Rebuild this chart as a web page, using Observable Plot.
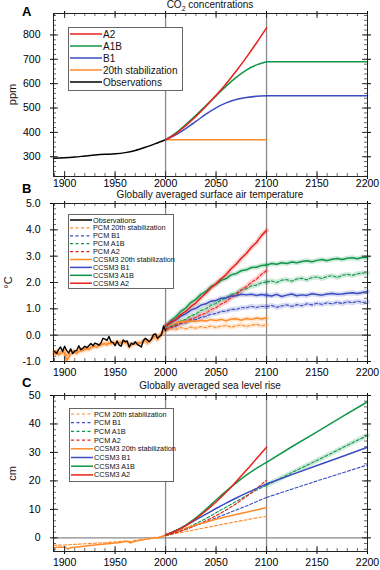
<!DOCTYPE html>
<html><head><meta charset="utf-8">
<script src="https://cdn.jsdelivr.net/npm/d3@7"></script>
<script src="https://cdn.jsdelivr.net/npm/@observablehq/plot@0.6"></script>
<style>
body{margin:0;background:#fff;font-family:"Liberation Sans",Arial,sans-serif;}
#wrap{position:relative;width:380px;height:570px;overflow:hidden;background:#fff;}
.panel{position:absolute;left:0;}
.title{position:absolute;left:53px;width:314px;text-align:center;font-size:10px;line-height:10px;color:#111;}
.letter{position:absolute;font-weight:bold;font-size:13px;line-height:13px;color:#000;}
.ylab{position:absolute;font-size:11px;line-height:11px;width:40px;text-align:center;transform:rotate(-90deg);color:#111;}
</style></head><body><div id="wrap"></div>
<script>
// ---------------- DATA ----------------
const colRed = "#e8201c", colGreen = "#10964a", colBlue = "#3a4cc0", colOrange = "#ff8a2a", colBlack = "#000";

// Panel A: CO2 (ppm)
const co2ObsYears = [1889, 1900, 1910, 1920, 1930, 1940, 1950, 1960, 1970, 1980, 1990, 2000];
const co2Obs      = [294, 296, 299, 303, 307, 310, 312, 317, 326, 339, 354, 370];
const co2ScenYears = [2000, 2010, 2020, 2030, 2040, 2050, 2060, 2070, 2080, 2090, 2100];
const co2A2  = [370, 394, 428, 465, 507, 552, 600, 652, 708, 767, 829];
const co2A1B = [370, 397, 432, 470, 510, 550, 590, 626, 656, 677, 690];
const co2B1  = [370, 390, 416, 445, 475, 501, 521, 535, 543, 548, 550];
const co2Stab = [370, 370, 370, 370, 370, 370, 370, 370, 370, 370, 370];
const co2ExtYears = [2100, 2200];
const co2A1BExt = [690, 690];
const co2B1Ext  = [550, 550];

// Panel B: temperature (°C)
const histYears = d3.range(1890, 2001, 2);
const tObs = [-0.62,-0.70,-0.55,-0.45,-0.62, -0.42,-0.58,-0.68,-0.52,-0.70, -0.60,-0.58,-0.40,-0.55,-0.50,
  -0.42,-0.48,-0.40,-0.32,-0.40, -0.30,-0.33,-0.38,-0.30,-0.12, -0.15,-0.20,-0.05,-0.25,-0.28,
  -0.40,-0.22,-0.38,-0.42,-0.18, -0.25,-0.22,-0.45,-0.30,-0.35, -0.25,-0.35,-0.40,-0.45,-0.20,
  -0.12,-0.18,-0.25,-0.15,0.02, 0.05,-0.12,-0.05,0.02,0.35, 0.18];
const tCcsmHist = [-0.72,-0.68,-0.75,-0.70,-0.65, -0.68,-0.95,-0.85,-0.72,-0.68, -0.65,-0.70,-0.62,-0.60,-0.58,
  -0.55,-0.52,-0.55,-0.48,-0.45, -0.42,-0.45,-0.40,-0.38,-0.35, -0.33,-0.36,-0.30,-0.32,-0.28,
  -0.30,-0.27,-0.29,-0.31,-0.26, -0.28,-0.30,-0.45,-0.38,-0.34, -0.32,-0.30,-0.30,-0.28,-0.25,
  -0.20,-0.28,-0.22,-0.15,-0.08, 0.00,-0.12,-0.02,0.08,0.18, 0.30];
const tPcmHist = [-0.65,-0.60,-0.68,-0.62,-0.64, -0.58,-0.80,-0.72,-0.62,-0.60, -0.58,-0.63,-0.55,-0.53,-0.56,
  -0.50,-0.47,-0.50,-0.45,-0.43, -0.40,-0.43,-0.37,-0.36,-0.33, -0.30,-0.34,-0.29,-0.31,-0.28,
  -0.30,-0.26,-0.29,-0.25,-0.27, -0.28,-0.30,-0.42,-0.36,-0.32, -0.33,-0.29,-0.31,-0.27,-0.24,
  -0.20,-0.30,-0.24,-0.18,-0.12, -0.06,-0.18,-0.08,0.02,0.10, 0.20];
const projYears = d3.range(2000, 2101, 5);
const extYears  = d3.range(2100, 2201, 5);
const tCcsmA2  = [0.35,0.50,0.60,0.78,0.90,1.08,1.22,1.42,1.60,1.80,1.95,2.14,2.30,2.52,2.70,2.92,3.10,3.34,3.52,3.78,3.98];
const tCcsmA1B = [0.35,0.54,0.70,0.90,1.03,1.24,1.36,1.55,1.66,1.84,1.94,2.08,2.15,2.29,2.34,2.45,2.48,2.57,2.58,2.65,2.66];
const tCcsmA1BExt = [2.66,2.72,2.69,2.75,2.72,2.78,2.75,2.80,2.83,2.79,2.84,2.87,2.83,2.88,2.91,2.87,2.92,2.94,2.90,2.96,2.95];
const tCcsmB1  = [0.32,0.47,0.57,0.72,0.81,0.95,1.02,1.14,1.19,1.29,1.32,1.40,1.42,1.49,1.50,1.55,1.53,1.55,1.51,1.54,1.52];
const tCcsmB1Ext = [1.52,1.49,1.55,1.47,1.52,1.56,1.50,1.53,1.51,1.57,1.54,1.52,1.56,1.58,1.55,1.56,1.59,1.61,1.58,1.62,1.66];
const tCcsmStab = [0.32,0.41,0.45,0.51,0.50,0.54,0.52,0.57,0.54,0.59,0.56,0.60,0.55,0.61,0.62,0.57,0.63,0.60,0.65,0.61,0.65];
const tPcmA2  = [0.22,0.30,0.37,0.46,0.51,0.61,0.67,0.78,0.84,0.97,1.04,1.18,1.27,1.43,1.54,1.71,1.84,2.01,2.13,2.31,2.45];
const tPcmA1B = [0.22,0.33,0.41,0.54,0.60,0.74,0.80,0.94,1.00,1.14,1.20,1.34,1.40,1.54,1.59,1.72,1.76,1.87,1.90,1.99,2.02];
const tPcmA1BExt = [2.02,2.06,2.00,2.09,2.11,2.05,2.13,2.16,2.10,2.19,2.21,2.15,2.23,2.26,2.19,2.27,2.31,2.27,2.33,2.36,2.36];
const tPcmB1  = [0.22,0.29,0.34,0.44,0.47,0.57,0.59,0.68,0.71,0.80,0.82,0.90,0.91,0.98,0.98,1.04,1.04,1.10,1.05,1.10,1.08];
const tPcmB1Ext = [1.08,1.13,1.06,1.11,1.15,1.09,1.16,1.12,1.19,1.15,1.21,1.17,1.23,1.19,1.25,1.20,1.27,1.23,1.29,1.24,1.27];
const tPcmStab = [0.20,0.25,0.21,0.29,0.24,0.31,0.26,0.33,0.28,0.35,0.29,0.34,0.37,0.30,0.36,0.39,0.33,0.38,0.41,0.35,0.40];

// Panel C: sea level (cm)
const slCcsmHistYears = [1889,1900,1903,1907,1915,1925,1935,1945,1955,1962,1965,1970,1980,1990,1992,2000];
const slCcsmHist      = [-3.4,-3.2,-3.9,-3.4,-3.1,-2.7,-2.3,-2.0,-1.6,-1.2,-1.8,-1.2,-0.5,0.1,-0.1,1.0];
const slPcmHistYears  = [1889,1900,1910,1920,1930,1940,1950,1960,1965,1970,1980,1990,2000];
const slPcmHist       = [-2.6,-2.5,-2.3,-2.1,-1.9,-1.7,-1.4,-1.1,-1.3,-0.9,-0.5,0.0,0.8];
const slYears = [2000,2010,2020,2030,2040,2050,2060,2070,2080,2090,2100];
const slExtYears = [2100,2125,2150,2175,2200];
const slCcsmA2  = [1.0,2.4,4.3,6.7,9.5,12.6,16.0,19.8,23.7,27.8,31.8];
const slCcsmA1B = [1.0,2.5,4.5,7.0,10.0,13.3,16.4,19.3,22.0,24.4,26.5];
const slCcsmA1BExt = [26.5,32.0,37.2,42.6,47.8];
const slCcsmB1  = [1.0,2.5,4.3,6.3,8.3,10.3,12.2,14.0,15.7,17.3,18.9];
const slCcsmB1Ext = [18.9,22.2,25.4,28.6,31.8];
const slCcsmStab = [1.0,2.2,3.4,4.5,5.5,6.5,7.4,8.2,9.0,9.8,10.6];
const slPcmA2  = [0.8,1.8,3.0,4.4,6.0,7.8,9.8,12.0,14.5,17.3,20.3];
const slPcmA1B = [0.8,1.9,3.3,5.0,6.8,8.8,10.8,12.8,14.8,16.7,18.5];
const slPcmA1BExt = [18.5,22.9,27.2,31.6,36.0];
const slPcmB1  = [0.8,1.8,3.0,4.3,5.6,7.0,8.4,9.8,11.2,12.7,14.2];
const slPcmB1Ext = [14.2,17.1,20.0,22.8,25.6];
const slPcmStab = [0.8,1.5,2.2,2.9,3.6,4.3,5.0,5.7,6.3,7.0,7.6];

// Axis ticks
const xMajor = [1900,1950,2000,2050,2100,2150,2200];
const xMinor = d3.range(1890, 2201, 10);
const aMajor = [300,400,500,600,700,800];
const aMinor = d3.range(220, 890, 20);
const bMajor = [-1,0,1,2,3,4,5];
const bMinor = d3.range(-1, 5.01, 0.2);
const cMajor = [0,10,20,30,40,50];
const cMinor = d3.range(-4, 51, 2);

// Legends
const legA = [
  {label:"A2", color:colRed}, {label:"A1B", color:colGreen}, {label:"B1", color:colBlue},
  {label:"20th stabilization", color:colOrange}, {label:"Observations", color:colBlack}];
const legB = [
  {label:"Observations", color:colBlack},
  {label:"PCM 20th stabilization", color:colOrange, dash:"3,2.5"},
  {label:"PCM B1", color:colBlue, dash:"3,2.5"},
  {label:"PCM A1B", color:colGreen, dash:"3,2.5"},
  {label:"PCM A2", color:colRed, dash:"3,2.5"},
  {label:"CCSM3 20th stabilization", color:colOrange},
  {label:"CCSM3 B1", color:colBlue},
  {label:"CCSM3 A1B", color:colGreen},
  {label:"CCSM3 A2", color:colRed}];
const legC = legB.slice(1);

// ---------------- DRAW ----------------
const rows = (xs, vs) => xs.map((x, i) => ({year: x, v: vs[i]}));
const FONT = "Liberation Sans, Arial, sans-serif";
const wrap = document.getElementById("wrap");

function line(xs, vs, color, opts = {}) {
  return Plot.line(rows(xs, vs), {x: "year", y: "v", stroke: color, strokeWidth: opts.w ?? 1.5,
    strokeDasharray: opts.dash, strokeOpacity: opts.op ?? 1, curve: opts.curve ?? "linear"});
}

function panel({top, height, mt, mb, yDomain, yMajor, yMinor, yFmt, padX, marks}) {
  const W = 380, ml = 53, mr = 13;
  const fw = W - ml - mr, fh = height - mt - mb;
  const chart = Plot.plot({
    width: W, height, marginLeft: ml, marginRight: mr, marginTop: mt, marginBottom: mb,
    style: {fontFamily: FONT, fontSize: "10.5px", color: "#000", background: "transparent", overflow: "visible"},
    x: {domain: [1889, 2200]},
    y: {domain: yDomain},
    marks: [
      Plot.ruleX([2000, 2100], {stroke: "#8a8a8a", strokeWidth: 1.3}),
      ...marks,
      Plot.ruleX(xMinor, {x: d => d, insetTop: fh - 3, stroke: "#444", strokeWidth: 0.8}),
      Plot.ruleX(xMinor, {x: d => d, insetBottom: fh - 3, stroke: "#444", strokeWidth: 0.8}),
      Plot.ruleY(yMinor, {y: d => d, insetRight: fw - 3, stroke: "#444", strokeWidth: 0.8}),
      Plot.ruleY(yMinor, {y: d => d, insetLeft: fw - 3, stroke: "#444", strokeWidth: 0.8}),
      Plot.ruleX(xMajor, {x: d => d, insetTop: fh - 5, stroke: "#333"}),
      Plot.ruleX(xMajor, {x: d => d, insetBottom: fh - 5, stroke: "#333"}),
      Plot.ruleY(yMajor, {y: d => d, insetRight: fw - 5, stroke: "#333"}),
      Plot.ruleY(yMajor, {y: d => d, insetLeft: fw - 5, stroke: "#333"}),
      Plot.axisX({anchor: "bottom", ticks: xMajor, tickSize: 3, tickPadding: padX, tickFormat: d => String(d), label: null}),
      Plot.axisX({anchor: "top", ticks: xMajor, tickSize: 3, tickFormat: () => "", label: null}),
      Plot.axisY({anchor: "left", ticks: yMajor, tickSize: 3, tickPadding: 10, tickFormat: yFmt, label: null}),
      Plot.axisY({anchor: "right", ticks: yMajor, tickSize: 3, tickFormat: () => "", label: null}),
      Plot.frame({stroke: "#222"})
    ]
  });
  chart.classList.add("panel");
  chart.style.top = top + "px";
  chart.style.position = "absolute";
  wrap.appendChild(chart);
}

function addHTML(html) { wrap.insertAdjacentHTML("beforeend", html); }

function legend({left, top, w, h, items, y0, dy, x1, x2, tx, fs}) {
  const inner = items.map((it, i) => {
    const y = y0 + i * dy;
    return `<line x1="${x1}" x2="${x2}" y1="${y}" y2="${y}" stroke="${it.color}" stroke-width="${it.dash ? 1.2 : 1.5}" ${it.dash ? `stroke-dasharray="${it.dash}"` : ""}/>` +
      `<text x="${tx}" y="${y}" dy="0.35em" font-size="${fs}" fill="#111" font-family="${FONT}">${it.label}</text>`;
  }).join("");
  addHTML(`<svg width="${w}" height="${h}" style="position:absolute;left:${left}px;top:${top}px;overflow:visible"><rect x="0.5" y="0.5" width="${w - 1}" height="${h - 1}" fill="#fff" stroke="#666"/>${inner}</svg>`);
}

// Panel A
panel({top: 0, height: 190, mt: 13, mb: 14, yDomain: [219, 888], yMajor: aMajor, yMinor: aMinor,
  yFmt: d => String(d), padX: 0,
  marks: [
    line(co2ObsYears, co2Obs, colBlack, {curve: "monotone-x"}),
    line(co2ScenYears, co2Stab, colOrange),
    line(co2ScenYears, co2B1, colBlue, {curve: "monotone-x"}),
    line(co2ExtYears, co2B1Ext, colBlue),
    line(co2ScenYears, co2A1B, colGreen, {curve: "monotone-x"}),
    line(co2ExtYears, co2A1BExt, colGreen),
    line(co2ScenYears, co2A2, colRed, {curve: "monotone-x"})
  ]});

// Panel B
const halo = (xs, vs, c) => line(xs, vs, c, {w: 5, op: 0.2});
panel({top: 190, height: 190, mt: 13, mb: 19, yDomain: [-1, 5], yMajor: bMajor, yMinor: bMinor,
  yFmt: d => d.toFixed(1), padX: 4,
  marks: [
    Plot.ruleY([0], {stroke: "#8a8a8a", strokeWidth: 1.3}),
    halo(histYears, tCcsmHist, colOrange), halo(histYears, tPcmHist, colOrange),
    halo(projYears, tCcsmA1B, colGreen), halo(extYears, tCcsmA1BExt, colGreen),
    halo(projYears, tPcmA1B, colGreen), halo(extYears, tPcmA1BExt, colGreen),
    halo(projYears, tCcsmA2, colRed), halo(projYears, tPcmA2, colRed),
    halo(projYears, tCcsmB1, colBlue), halo(extYears, tCcsmB1Ext, colBlue),
    halo(projYears, tPcmB1, colBlue), halo(extYears, tPcmB1Ext, colBlue),
    halo(projYears, tCcsmStab, colOrange), halo(projYears, tPcmStab, colOrange),
    line(histYears, tPcmHist, colOrange, {w: 1.1, dash: "3,2"}),
    line(projYears, tPcmStab, colOrange, {w: 1.1, dash: "3,2"}),
    line(projYears, tPcmB1, colBlue, {w: 1.1, dash: "3,2"}),
    line(extYears, tPcmB1Ext, colBlue, {w: 1.1, dash: "3,2"}),
    line(projYears, tPcmA1B, colGreen, {w: 1.1, dash: "3,2"}),
    line(extYears, tPcmA1BExt, colGreen, {w: 1.1, dash: "3,2"}),
    line(projYears, tPcmA2, colRed, {w: 1.1, dash: "3,2"}),
    line(histYears, tCcsmHist, colOrange, {w: 1.5}),
    line(projYears, tCcsmStab, colOrange, {w: 1.5}),
    line(projYears, tCcsmB1, colBlue, {w: 1.5}),
    line(extYears, tCcsmB1Ext, colBlue, {w: 1.5}),
    line(projYears, tCcsmA1B, colGreen, {w: 1.5}),
    line(extYears, tCcsmA1BExt, colGreen, {w: 1.5}),
    line(projYears, tCcsmA2, colRed, {w: 1.5}),
    line(histYears, tObs, colBlack, {w: 1.4})
  ]});

// Panel C
panel({top: 380, height: 190, mt: 15, mb: 19, yDomain: [-4.8, 50], yMajor: cMajor, yMinor: cMinor,
  yFmt: d => String(d), padX: 4,
  marks: [
    Plot.ruleY([0], {stroke: "#8a8a8a", strokeWidth: 1.3}),
    line(slExtYears, slPcmA1BExt, colGreen, {w: 5, op: 0.2}),
    line(slPcmHistYears, slPcmHist, colOrange, {w: 1.1, dash: "3,2"}),
    line(slYears, slPcmStab, colOrange, {w: 1.1, dash: "3,2"}),
    line(slYears, slPcmB1, colBlue, {w: 1.1, dash: "3,2"}),
    line(slExtYears, slPcmB1Ext, colBlue, {w: 1.1, dash: "3,2"}),
    line(slYears, slPcmA1B, colGreen, {w: 1.1, dash: "3,2", curve: "monotone-x"}),
    line(slExtYears, slPcmA1BExt, colGreen, {w: 1.1, dash: "3,2"}),
    line(slYears, slPcmA2, colRed, {w: 1.1, dash: "3,2", curve: "monotone-x"}),
    line(slCcsmHistYears, slCcsmHist, colOrange, {w: 1.5}),
    line(slYears, slCcsmStab, colOrange, {w: 1.5, curve: "monotone-x"}),
    line(slYears, slCcsmB1, colBlue, {w: 1.5, curve: "monotone-x"}),
    line(slExtYears, slCcsmB1Ext, colBlue, {w: 1.5}),
    line(slYears, slCcsmA1B, colGreen, {w: 1.5, curve: "monotone-x"}),
    line(slExtYears, slCcsmA1BExt, colGreen, {w: 1.5}),
    line(slYears, slCcsmA2, colRed, {w: 1.5, curve: "monotone-x"})
  ]});

// Titles, panel letters, y labels
addHTML(`<div class="title" style="top:0px">CO<sub style="font-size:7px;line-height:0">2</sub> concentrations</div>`);
addHTML(`<div class="title" style="top:190px">Globally averaged surface air temperature</div>`);
addHTML(`<div class="title" style="top:381px">Globally averaged sea level rise</div>`);
addHTML(`<div class="letter" style="left:22px;top:5px">A</div>`);
addHTML(`<div class="letter" style="left:22px;top:182px">B</div>`);
addHTML(`<div class="letter" style="left:22px;top:376px">C</div>`);
addHTML(`<div class="ylab" style="left:-8px;top:89px">ppm</div>`);
addHTML(`<div class="ylab" style="left:-12px;top:277px">°C</div>`);
addHTML(`<div class="ylab" style="left:-8px;top:468px">cm</div>`);

// Legends
legend({left: 68, top: 27, w: 115, h: 64, items: legA, y0: 7, dy: 12, x1: 2, x2: 34, tx: 35, fs: 10});
legend({left: 68, top: 214, w: 106, h: 75, items: legB, y0: 6, dy: 7.9, x1: 2, x2: 24, tx: 25, fs: 7.3});
legend({left: 69, top: 408, w: 105, h: 74, items: legC, y0: 6, dy: 8.7, x1: 2, x2: 24, tx: 25, fs: 7.3});
</script></body></html>
